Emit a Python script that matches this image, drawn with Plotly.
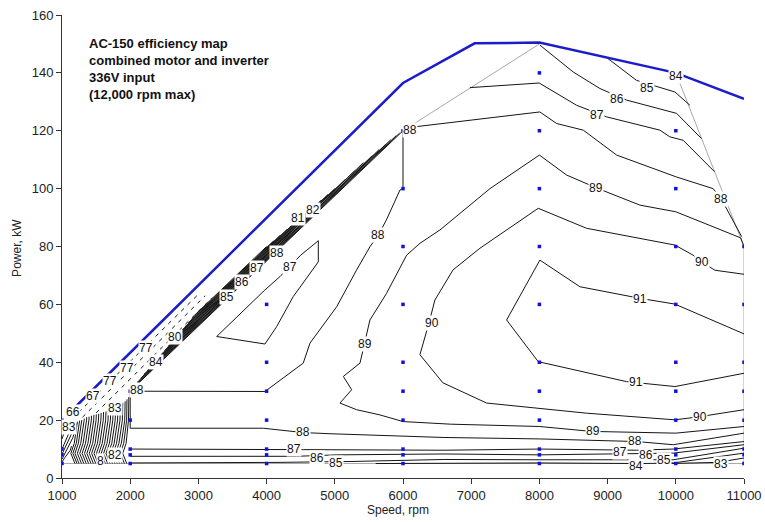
import plotly.graph_objects as go

# ---------------- data ----------------
x_tick_vals = [1000, 2000, 3000, 4000, 5000, 6000, 7000, 8000, 9000, 10000, 11000]
x_tick_text = ["1000", "2000", "3000", "4000", "5000", "6000", "7000", "8000", "9000", "10000", "11000"]
y_tick_vals = [0, 20, 40, 60, 80, 100, 120, 140, 160]
y_tick_text = ["0", "20", "40", "60", "80", "100", "120", "140", "160"]

# measurement points (speed rpm -> power kW)
pts_speed_levels = [1000, 2000, 4000, 6000, 8000, 10000, 11000]
pts_powers = [
    [5, 8, 10, 20],
    [5, 8, 10, 20, 30],
    [5, 8, 10, 20, 30, 40, 60],
    [5, 8, 10, 20, 30, 40, 60, 80, 100, 120],
    [5, 8, 10, 20, 30, 40, 60, 80, 100, 120, 140],
    [5, 8, 10, 20, 30, 40, 60, 80, 100, 120],
    [5, 8, 10, 20, 30, 40, 60, 80],
]

# maximum power envelope (blue)
env_x = [1150, 6000, 7050, 8000, 10000, 11000]
env_y = [23.5, 136.5, 150.2, 150.5, 140, 131]

# hull (grey)
hull_a_x = [6000, 8000]
hull_a_y = [120, 150]
hull_b_x = [10000, 11000, 11000]
hull_b_y = [140, 80, 5]
hull_c_x = [1000, 11000]
hull_c_y = [5, 5]

# contour lines (efficiency %)
c91_x = [11000, 9987, 9473, 8594, 8007, 7519, 7983, 9278, 9987, 11000]
c91_y = [49.8, 60.1, 62.1, 66.1, 75.3, 54.6, 40.2, 33.3, 31.6, 36.2]

c90_x = [11000, 10573, 10377, 10254, 9987, 8691, 7983, 7128, 6733, 6468, 6380, 6248, 6585, 7226, 8691, 9987, 10324, 11000]
c90_y = [70.4, 71.8, 74.7, 77, 80.5, 86.3, 93.2, 79.4, 71.9, 61.5, 53.5, 42.6, 32.9, 25.9, 22.4, 20.1, 21.1, 23.6]

c89_x = [11000, 10950, 10000, 9473, 8862, 8398, 8000, 7275, 6541, 6248, 6053, 5759, 5515, 5442, 5369, 5125, 5247, 5076, 5320, 5662, 6000, 6700, 8000, 8765, 10000, 11000]
c89_y = [80, 83, 92, 94.3, 100, 104.7, 111.6, 100, 85.7, 81.1, 77, 63.8, 54.6, 46.6, 39.7, 35.1, 30.5, 25.9, 23.6, 21.8, 19.5, 18.6, 17.8, 16.1, 15.5, 17.8]

c88_x = [2000, 2000, 3976, 4537, 4636, 5028, 5320, 5515, 5637, 5755, 5955, 6000, 6000, 6151, 8007, 8253, 8644, 9132, 10012, 10548, 10670, 10966]
c88_y = [17.2, 30, 29.9, 39.7, 46.6, 59.2, 71.9, 79.9, 83.9, 89.1, 99.5, 100, 120, 121.3, 126.5, 122.5, 120.2, 111.6, 104, 100, 96.3, 83.4]

c88b_x = [2000, 3951, 4537, 4929, 6600, 8007, 9425, 9962, 11000]
c88b_y = [17.2, 17.2, 15.7, 15.3, 14.0, 13.5, 12.6, 11.5, 15.5]

c87b_x = [2000, 3946, 4537, 6600, 8007, 9425, 9962, 11000]
c87b_y = [10, 10, 9.8, 9.6, 10, 9.6, 10, 12.6]

c86b_x = [2000, 3951, 4439, 5028, 6600, 8007, 9667, 9962, 11000]
c86b_y = [7.5, 7.5, 7.5, 8.0, 8.3, 8.0, 8.4, 8.6, 11.5]

c85b_x = [2000, 3951, 4196, 5222, 6600, 8007, 9811, 9962, 11000]
c85b_y = [5.2, 5.2, 5.4, 5.7, 6.4, 6.3, 6.1, 6.3, 10.3]

c84b_x = [5600, 8007, 9473, 9962, 11000]
c84b_y = [5.0, 5.2, 5.0, 5.2, 8.6]

c83b_x = [9900, 10254, 10610, 11000]
c83b_y = [5.0, 5.2, 5.4, 6.9]

c85t_x = [8985, 9425, 9987, 10207]
c85t_y = [145.3, 137.4, 133.4, 128.8]

c86t_x = [8007, 8496, 8887, 9278, 10012, 10377]
c86t_y = [149.6, 140.3, 134.6, 130.6, 126, 117.3]

c87t_x = [6981, 7997, 8545, 8985, 9767, 9913, 10109, 10570]
c87t_y = [134.9, 136.5, 128.8, 124.8, 120.2, 117.9, 116.7, 105.8]

c87tri_x = [3268, 3976, 4147, 4391, 4758, 4758, 4500, 4342, 4196, 3976, 3268]
c87tri_y = [48.9, 46.3, 52.3, 62.7, 74.7, 82, 77, 73, 69.6, 65, 48.9]

# dense band of contours along the steep diagonal
band_x = [
    [2000, 6000], [2030, 5950], [2050, 5900], [2100, 5820], [2150, 5750], [2200, 5650],
    [2250, 5550], [2300, 5420], [2350, 5300], [2400, 5150], [2450, 5000], [2500, 4900],
    [2550, 4800], [2600, 4700], [2650, 4600], [2700, 4500], [2750, 4400], [2800, 4300],
    [2850, 4200], [2900, 4100], [2950, 4000],
]
band_y = [
    [30.0, 120.0], [30.9, 119.2], [31.6, 118.3], [33.0, 116.9], [34.4, 115.4], [35.8, 113.5],
    [37.1, 111.4], [38.5, 109.0], [39.9, 106.3], [41.2, 103.1], [42.6, 100.0], [44.0, 98.0],
    [45.4, 96.0], [46.8, 94.0], [48.1, 92.0], [49.5, 90.0], [50.9, 88.0], [52.2, 85.9],
    [53.6, 83.9], [55.0, 81.9], [56.4, 80.0],
]

# broken contours between band and envelope
strip_x = [[1150, 1800, 2400, 3000], [1300, 1900, 2500, 3100], [1500, 2000, 2600, 3200]]
strip_y = [[20.5, 35.6, 49.5, 63.5], [21, 35, 49, 63], [22.5, 34.3, 48.3, 62.3]]

# hatched low-speed region
hatch_x = [
    [1190, 1130, 1180, 1210, 1225],
    [1220, 1160, 1210, 1240, 1258],
    [1250, 1190, 1240, 1270, 1290],
    [1285, 1225, 1275, 1305, 1325, 1327],
    [1320, 1260, 1310, 1340, 1360, 1362],
    [1355, 1295, 1345, 1375, 1395, 1397],
    [1390, 1330, 1380, 1410, 1430, 1433],
    [1425, 1365, 1415, 1445, 1465, 1468],
    [1460, 1400, 1450, 1480, 1500, 1503],
    [1495, 1435, 1485, 1515, 1535, 1538],
    [1530, 1470, 1520, 1550, 1570, 1574],
    [1565, 1505, 1555, 1585, 1605, 1609],
    [1600, 1540, 1590, 1620, 1640, 1645],
    [1635, 1575, 1625, 1655, 1675, 1680],
    [1670, 1610, 1660, 1690, 1710, 1716],
    [1705, 1645, 1695, 1725, 1745, 1751],
    [1740, 1680, 1730, 1760, 1780, 1786],
    [1775, 1715, 1765, 1795, 1815, 1821],
    [1810, 1750, 1800, 1830, 1850, 1856],
    [1845, 1785, 1835, 1865, 1885, 1891],
    [1880, 1820, 1870, 1900, 1920, 1926],
    [1915, 1855, 1905, 1930, 1948, 1953],
    [1950, 1890, 1940, 1960, 1975, 1980],
    [1000, 1080, 1160, 1220],
    [1000, 1060, 1120, 1160],
    [1000, 1050, 1090],
    [1000, 1040, 1120, 1140],
    [1000, 1070, 1140, 1190],
    [1000, 1040, 1080],
]
hatch_y = [
    [5, 8.5, 12, 16, 19.5],
    [5, 8.5, 12, 16, 19.8],
    [5, 8.5, 12, 16, 20],
    [5, 8.5, 12, 16, 20, 20.5],
    [5, 8.5, 12, 16, 20, 21],
    [5, 8.5, 12, 16, 20, 21.2],
    [5, 8.5, 12, 16, 20, 21.5],
    [5, 8.5, 12, 16, 20, 21.8],
    [5, 8.5, 12, 16, 20, 22],
    [5, 8.5, 12, 16, 20, 22.2],
    [5, 8.5, 12, 16, 20, 22.5],
    [5, 8.5, 12, 16, 20, 22.8],
    [5, 8.5, 12, 16, 20, 23],
    [5, 8.5, 12, 16, 20, 23.2],
    [5, 8.5, 12, 16, 20, 23.5],
    [5, 8.5, 12, 16, 20, 24],
    [5, 8.5, 12, 16, 20, 24.5],
    [5, 8.5, 12, 16, 20, 25],
    [5, 8.5, 12, 16, 20, 25.5],
    [5, 8.5, 12, 16, 20, 26],
    [5, 8.5, 12, 16, 20, 26.5],
    [5, 8.5, 12, 16, 20, 27.2],
    [5, 8.5, 12, 16, 20, 28],
    [6.5, 10, 14, 19],
    [10, 13, 16.5, 19.5],
    [13.5, 16.5, 19.5],
    [5.5, 7, 9.5, 11],
    [8.2, 11.8, 15.3, 19.2],
    [16, 18, 20],
]

# contour labels
label_text = ["91", "91", "90", "90", "90", "89", "89", "89",
              "88", "88", "88", "88", "88", "88", "88",
              "87", "87", "87", "87", "87",
              "86", "86", "86", "86",
              "85", "85", "85", "85",
              "84", "84", "84", "83", "83", "83",
              "82", "82", "81", "80", "77", "77", "77", "67", "66", "8"]
label_x = [9473, 9420, 10377, 6430, 10353, 8829, 5442, 8785,
           6100, 5637, 10670, 2095, 4533, 9400, 4147,
           8839, 4342, 4400, 9180, 3854,
           9141, 4740, 9560, 3634,
           9571, 5020, 9830, 3414,
           10001, 9420, 2384, 10670, 1100, 1777,
           4684, 1780, 4464, 2652, 1948, 2237, 1700, 1459, 1160, 1560]
label_y = [61.9, 33.3, 74.7, 53.6, 21.1, 100.1, 46.4, 16.3,
           120.2, 83.9, 96.3, 30.5, 16.0, 12.8, 77.6,
           125.6, 73.0, 10.0, 9.0, 72.5,
           130.9, 7.0, 8.0, 67.8,
           134.9, 5.3, 6.2, 62.7,
           139.0, 4.2, 40.2, 5.0, 17.6, 24.2,
           92.6, 7.8, 89.7, 48.9, 38.0, 44.9, 33.5, 28.2, 22.8, 5.8]

title_lines = ["AC-150 efficiency map", "combined motor and inverter", "336V input", "(12,000 rpm max)"]

# ---------------- figure ----------------
LINE = dict(color="#151515", width=1)
fig = go.Figure()


def add_line(xs, ys, line=LINE):
    fig.add_trace(go.Scatter(x=xs, y=ys, mode="lines", line=line, hoverinfo="skip", showlegend=False))


# hull lines
grey = dict(color="#a8a8a8", width=1)
add_line(hull_a_x, hull_a_y, grey)
add_line(hull_b_x, hull_b_y, grey)
add_line(hull_c_x, hull_c_y, grey)

for xs, ys in [(c91_x, c91_y), (c90_x, c90_y), (c89_x, c89_y), (c88_x, c88_y),
               (c88b_x, c88b_y), (c87b_x, c87b_y), (c86b_x, c86b_y), (c85b_x, c85b_y),
               (c84b_x, c84b_y), (c83b_x, c83b_y), (c85t_x, c85t_y), (c86t_x, c86t_y),
               (c87t_x, c87t_y), (c87tri_x, c87tri_y)]:
    add_line(xs, ys)

for xs, ys in zip(band_x, band_y):
    add_line(xs, ys)
for xs, ys in zip(hatch_x, hatch_y):
    add_line(xs, ys)
for xs, ys in zip(strip_x, strip_y):
    add_line(xs, ys, dict(color="#151515", width=1, dash="4px,5px"))

# envelope
add_line(env_x, env_y, dict(color="#1c1cc8", width=2.5))

# measurement points
px, py = [], []
for s, plist in zip(pts_speed_levels, pts_powers):
    for p in plist:
        px.append(s)
        py.append(p)
fig.add_trace(go.Scatter(x=px, y=py, mode="markers",
                         marker=dict(symbol="square", size=3.5, color="#1010e0", line=dict(width=0)),
                         hoverinfo="skip", showlegend=False))

annotations = []
for t, lx, ly in zip(label_text, label_x, label_y):
    annotations.append(dict(x=lx, y=ly, xref="x", yref="y", text=t, showarrow=False,
                            font=dict(family="Liberation Sans, Arial", size=12, color="#111"),
                            bgcolor="white", borderpad=0))

annotations.append(dict(x=0.0367, y=0.958, xref="paper", yref="paper", xanchor="left", yanchor="top",
                        align="left", showarrow=False, text="<br>".join(title_lines),
                        font=dict(family="Liberation Sans, Arial", size=13, color="#111", weight="bold")))
annotations.append(dict(x=0.493, y=-0.07, xref="paper", yref="paper", xanchor="center", yanchor="middle",
                        showarrow=False, text="Speed, rpm",
                        font=dict(family="Liberation Sans, Arial", size=12, color="#222")))
annotations.append(dict(x=-0.066, y=0.497, xref="paper", yref="paper", xanchor="center", yanchor="middle",
                        showarrow=False, text="Power, kW", textangle=-90,
                        font=dict(family="Liberation Sans, Arial", size=12, color="#222")))

axis_common = dict(showgrid=False, zeroline=False, showline=True, linecolor="#333", linewidth=1,
                   ticks="outside", ticklen=5, tickcolor="#333", tickwidth=1,
                   tickfont=dict(family="Liberation Sans, Arial", size=13, color="#222"))

fig.update_layout(
    width=765, height=522,
    margin=dict(l=62, r=21, t=15, b=44, autoexpand=False),
    paper_bgcolor="white", plot_bgcolor="white",
    xaxis=dict(range=[1000, 11000], tickvals=x_tick_vals, ticktext=x_tick_text, **axis_common),
    yaxis=dict(range=[0, 160], tickvals=y_tick_vals, ticktext=y_tick_text, **axis_common),
    annotations=annotations,
    showlegend=False,
)

fig.write_html("out.html")
